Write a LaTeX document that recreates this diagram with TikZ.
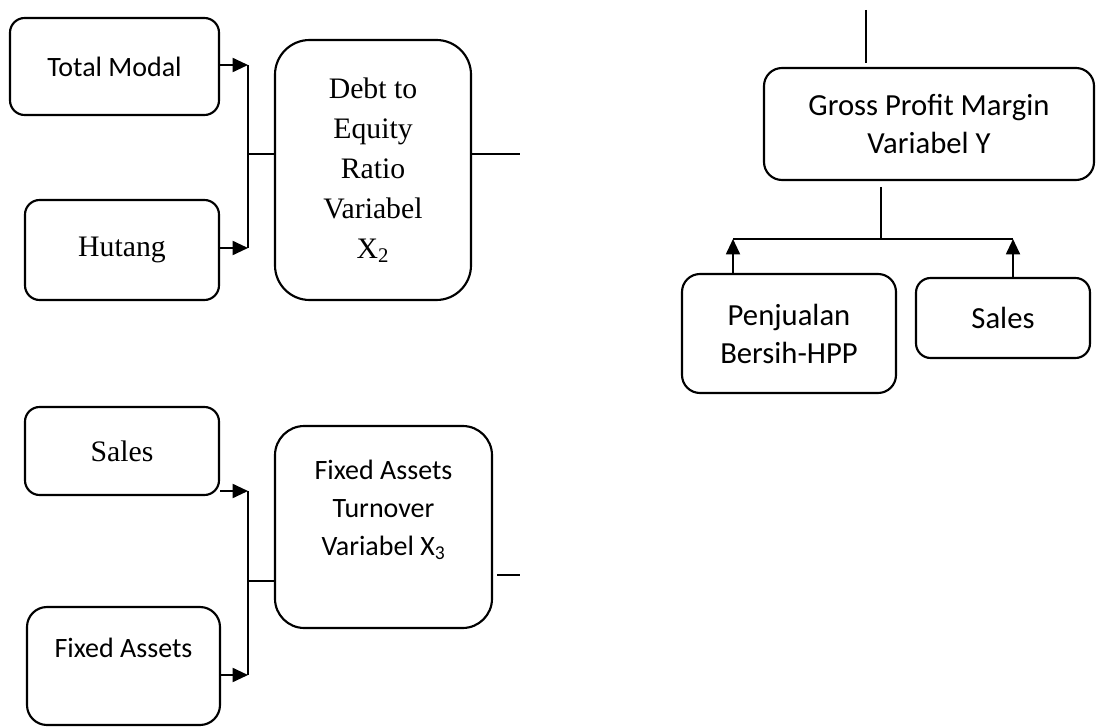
\documentclass[tikz,border=0pt]{standalone}
\usepackage{fontspec}
\setmainfont{Carlito}
\newfontfamily\tnr{Liberation Serif}
\usetikzlibrary{arrows.meta}
\begin{document}
\begin{tikzpicture}[x=0.75pt,y=-0.75pt,
  box/.style={draw,line width=1.6pt,rounded corners=11pt,inner sep=0pt,align=center,
    font=\fontsize{21}{28.5}\selectfont},
  rbox/.style={box,font=\fontsize{23}{28.5}\selectfont},
  tbox/.style={box,font=\tnr\fontsize{22.3}{30}\selectfont},
  txt/.style={inner sep=0pt,align=center,font=\fontsize{21}{28.5}\selectfont},
  arr/.style={line width=1.4pt,-{Triangle[length=11.5pt,width=10.5pt]}},
  bar/.style={line width=1.4pt},
  ln/.style={line width=1pt}]
\useasboundingbox (0,0) rectangle (1096,727);

% --- Debt to Equity group ---
\node[box,minimum width=156.75pt,minimum height=72.75pt] (tm) at (114.5,66.5) {Total Modal};
\node[tbox,minimum width=145.5pt,minimum height=75pt] (hut) at (122,250) {Hutang};
\node[tbox,rounded corners=26pt,minimum width=147pt,minimum height=195pt] (der) at (373,170)
  {Debt to\\Equity\\Ratio\\Variabel\\X\textsubscript{2}};
\coordinate (b1t) at (248,65);
\coordinate (b1b) at (248,248);
\coordinate (b1m) at (249,154);
\coordinate (e1) at (520,154);
\draw[arr] (b1t -| tm.east) -- (b1t);
\draw[arr] (b1b -| hut.east) -- (b1b);
\draw[bar] (b1t) -- (b1b);
\draw[ln] (b1m) -- (b1m -| der.west);
\draw[ln] (e1 -| der.east) -- (e1);

% --- Fixed Assets Turnover group ---
\node[tbox,minimum width=145.5pt,minimum height=66pt] (sal1) at (122,451) {Sales};
\node[box,rounded corners=15pt,minimum width=144.75pt,minimum height=88.5pt] (fa) at (123.5,666) {};
\node[txt] (fat-t) at (123.5,648) {Fixed Assets};
\node[box,rounded corners=22pt,minimum width=162.75pt,minimum height=151.5pt] (fat) at (383.5,527) {};
\node[txt] (fatx) at (383.5,510) {Fixed Assets\\Turnover\\Variabel X\textsubscript{3}};
\coordinate (b2t) at (248,491);
\coordinate (b2b) at (248,675);
\coordinate (b2m) at (249,581);
\coordinate (e2) at (520,575);
\draw[arr] (b2t -| sal1.east) -- (b2t);
\draw[arr] (b2b -| fa.east) -- (b2b);
\draw[bar] (b2t) -- (b2b);
\draw[ln] (b2m) -- (b2m -| fat.west);
\draw[ln] ([xshift=3pt]e2 -| fat.east) -- (e2);

% --- Gross Profit Margin group ---
\node[rbox,rounded corners=13.5pt,minimum width=247.5pt,minimum height=84pt] (gpm) at (929,124)
  {Gross Profit Margin\\Variabel Y};
\node[rbox,rounded corners=13.5pt,minimum width=160.5pt,minimum height=89.25pt] (pen) at (789,333.5)
  {Penjualan\\Bersih-HPP};
\node[rbox,rounded corners=11pt,minimum width=130.5pt,minimum height=60pt] (sal2) at (1003,318) {Sales};
\coordinate (t1) at (866,10);
\coordinate (t2) at (866,63);
\draw[ln] (t1) -- (t2);
\coordinate (g1) at (881,187);
\coordinate (g2) at (881,239);
\coordinate (a1) at (733,239);
\coordinate (a2) at (1013,239);
\draw[ln] (g1) -- (g2);
\draw[ln] (a1) -- (a2);
\draw[arr] (a1 |- pen.north) -- (a1);
\draw[arr] (a2 |- sal2.north) -- (a2);
\end{tikzpicture}
\end{document}
